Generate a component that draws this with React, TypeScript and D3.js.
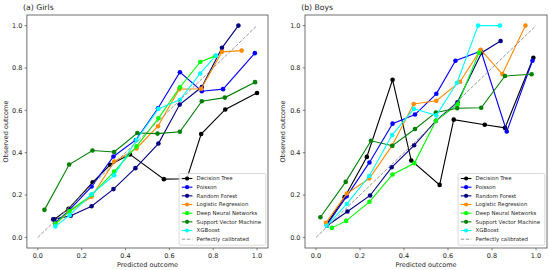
import React from 'react';
import * as d3 from 'd3';

// model names in legend order
const models = [
  'Decision Tree',
  'Poisson',
  'Random Forest',
  'Logistic Regression',
  'Deep Neural Networks',
  'Support Vector Machine',
  'XGBoost',
];
const modelColors = ['#000000', '#0000ff', '#000080', '#ff8c00', '#00ff00', '#008000', '#00ffff'];
const ticks = [0, 0.2, 0.4, 0.6, 0.8, 1.0];

// (a) Girls: [predicted, observed]
const girlsDecisionTree = [[0.075, 0.085], [0.14, 0.135], [0.25, 0.26], [0.33, 0.343], [0.42, 0.392], [0.575, 0.275], [0.68, 0.277], [0.745, 0.488], [0.855, 0.604], [1.0, 0.682]];
const girlsPoisson = [[0.08, 0.07], [0.14, 0.125], [0.245, 0.24], [0.345, 0.382], [0.447, 0.46], [0.548, 0.61], [0.648, 0.78], [0.748, 0.69], [0.845, 0.7], [0.99, 0.87]];
const girlsRandomForest = [[0.07, 0.085], [0.15, 0.102], [0.245, 0.147], [0.345, 0.228], [0.445, 0.327], [0.55, 0.443], [0.647, 0.627], [0.748, 0.71], [0.84, 0.895], [0.915, 1.0]];
const girlsLogistic = [[0.08, 0.062], [0.14, 0.12], [0.245, 0.192], [0.348, 0.358], [0.45, 0.42], [0.548, 0.525], [0.645, 0.7], [0.745, 0.702], [0.84, 0.876], [0.93, 0.882]];
const girlsDnn = [[0.08, 0.065], [0.145, 0.125], [0.245, 0.2], [0.348, 0.311], [0.45, 0.43], [0.55, 0.562], [0.648, 0.709], [0.741, 0.828], [0.81, 0.857]];
const girlsSvm = [[0.03, 0.13], [0.143, 0.344], [0.249, 0.41], [0.348, 0.403], [0.454, 0.493], [0.546, 0.49], [0.648, 0.499], [0.748, 0.643], [0.853, 0.66], [0.991, 0.733]];
const girlsXgb = [[0.08, 0.052], [0.145, 0.105], [0.245, 0.204], [0.348, 0.293], [0.45, 0.46], [0.55, 0.607], [0.648, 0.65], [0.741, 0.774], [0.813, 0.859]];

// (b) Boys
const boysDecisionTree = [[0.05, 0.065], [0.13, 0.19], [0.231, 0.38], [0.348, 0.744], [0.433, 0.363], [0.562, 0.248], [0.626, 0.556], [0.767, 0.532], [0.859, 0.517], [0.988, 0.848]];
const boysPoisson = [[0.05, 0.06], [0.14, 0.195], [0.243, 0.354], [0.348, 0.537], [0.45, 0.58], [0.547, 0.678], [0.634, 0.834], [0.75, 0.88], [0.867, 0.5], [0.984, 0.834]];
const boysRandomForest = [[0.05, 0.055], [0.143, 0.122], [0.246, 0.198], [0.344, 0.331], [0.446, 0.435], [0.545, 0.55], [0.643, 0.638], [0.753, 0.872], [0.839, 0.927]];
const boysLogistic = [[0.045, 0.069], [0.14, 0.207], [0.242, 0.278], [0.345, 0.432], [0.444, 0.63], [0.547, 0.645], [0.655, 0.735], [0.748, 0.886], [0.847, 0.771], [0.952, 1.0]];
const boysDnn = [[0.072, 0.045], [0.137, 0.078], [0.243, 0.168], [0.348, 0.297], [0.447, 0.35], [0.545, 0.55], [0.644, 0.628], [0.741, 0.872]];
const boysSvm = [[0.02, 0.095], [0.135, 0.262], [0.25, 0.456], [0.347, 0.433], [0.45, 0.512], [0.545, 0.59], [0.642, 0.61], [0.751, 0.612], [0.859, 0.762], [0.98, 0.77]];
const boysXgb = [[0.049, 0.055], [0.14, 0.158], [0.242, 0.29], [0.346, 0.483], [0.445, 0.607], [0.547, 0.576], [0.641, 0.73], [0.737, 1.0], [0.836, 1.0]];

const girlsSeries = [girlsDecisionTree, girlsPoisson, girlsRandomForest, girlsLogistic, girlsDnn, girlsSvm, girlsXgb];
const boysSeries = [boysDecisionTree, boysPoisson, boysRandomForest, boysLogistic, boysDnn, boysSvm, boysXgb];

const font = 'DejaVu Sans, sans-serif';
const textColor = '#262626';

function Panel({ title, series, left, right, ylabelX }) {
  const top = 15;
  const bottom = 248;
  const x = d3.scaleLinear().domain([-0.05, 1.05]).range([left, right]);
  const y = d3.scaleLinear().domain([-0.05, 1.05]).range([bottom, top]);
  const line = d3
    .line()
    .x(d => x(d[0]))
    .y(d => y(d[1]));

  const legendW = 86.7;
  const legendH = 71.7;
  const lx = right - 2.2 - legendW;
  const ly = bottom - 2.8 - legendH;
  const rowH = 8.67;
  const legendItems = [...models, 'Perfectly calibrated'];

  return (
    <g>
      <text x={left - 3.8} y={9.6} fontSize={7.7} fill={textColor} fontFamily={font}>
        {title}
      </text>
      {series.map((s, i) => (
        <g key={models[i]}>
          <path d={line(s)} fill="none" stroke={modelColors[i]} strokeWidth={1.1} />
          {s.map((d, j) => (
            <circle key={j} cx={x(d[0])} cy={y(d[1])} r={2.3} fill={modelColors[i]} />
          ))}
        </g>
      ))}
      <path
        d={line([[0, 0], [1, 1]])}
        fill="none"
        stroke="#8a8a8a"
        strokeWidth={0.9}
        strokeDasharray="3.4,1.6"
      />
      <rect x={left} y={top} width={right - left} height={bottom - top} fill="none" stroke="#333" strokeWidth={0.7} />
      {ticks.map(t => (
        <g key={'x' + t}>
          <line x1={x(t)} x2={x(t)} y1={bottom} y2={bottom + 2.3} stroke="#333" strokeWidth={0.6} />
          <text x={x(t)} y={bottom + 10} fontSize={6.5} textAnchor="middle" fill={textColor} fontFamily={font}>
            {d3.format('.1f')(t)}
          </text>
          <line x1={left} x2={left - 2.3} y1={y(t)} y2={y(t)} stroke="#333" strokeWidth={0.6} />
          <text x={left - 4.5} y={y(t)} dy="0.35em" fontSize={6.5} textAnchor="end" fill={textColor} fontFamily={font}>
            {d3.format('.1f')(t)}
          </text>
        </g>
      ))}
      <text x={(left + right) / 2} y={266.5} fontSize={6.5} textAnchor="middle" fill={textColor} fontFamily={font}>
        Predicted outcome
      </text>
      <text
        transform={`translate(${ylabelX},${(top + bottom) / 2}) rotate(-90)`}
        dy="0.35em"
        fontSize={6.5}
        textAnchor="middle"
        fill={textColor}
        fontFamily={font}
      >
        Observed outcome
      </text>
      <rect x={lx} y={ly} width={legendW} height={legendH} rx={1.5} fill="#fff" fillOpacity={0.8} stroke="#cccccc" strokeWidth={0.7} />
      {legendItems.map((name, i) => {
        const cy = ly + 5 + i * rowH;
        const isDiag = i === models.length;
        return (
          <g key={name}>
            <line
              x1={lx + 2.7}
              x2={lx + 13.3}
              y1={cy}
              y2={cy}
              stroke={isDiag ? '#8a8a8a' : modelColors[i]}
              strokeWidth={isDiag ? 0.9 : 1.1}
              strokeDasharray={isDiag ? '3.4,1.6' : null}
            />
            {!isDiag && <circle cx={lx + 8} cy={cy} r={2.1} fill={modelColors[i]} />}
            <text x={lx + 17.5} y={cy} dy="0.35em" fontSize={5.4} fill={textColor} fontFamily={font}>
              {name}
            </text>
          </g>
        );
      })}
    </g>
  );
}

export default function App() {
  return (
    <svg width={550} height={270} style={{ position: 'absolute', left: 0, top: 0, background: '#fff' }}>
      <rect width={550} height={270} fill="#fff" />
      <Panel title="(a) Girls" series={girlsSeries} left={26.9} right={268} ylabelX={5.5} />
      <Panel title="(b) Boys" series={boysSeries} left={305} right={547} ylabelX={282.5} />
    </svg>
  );
}
